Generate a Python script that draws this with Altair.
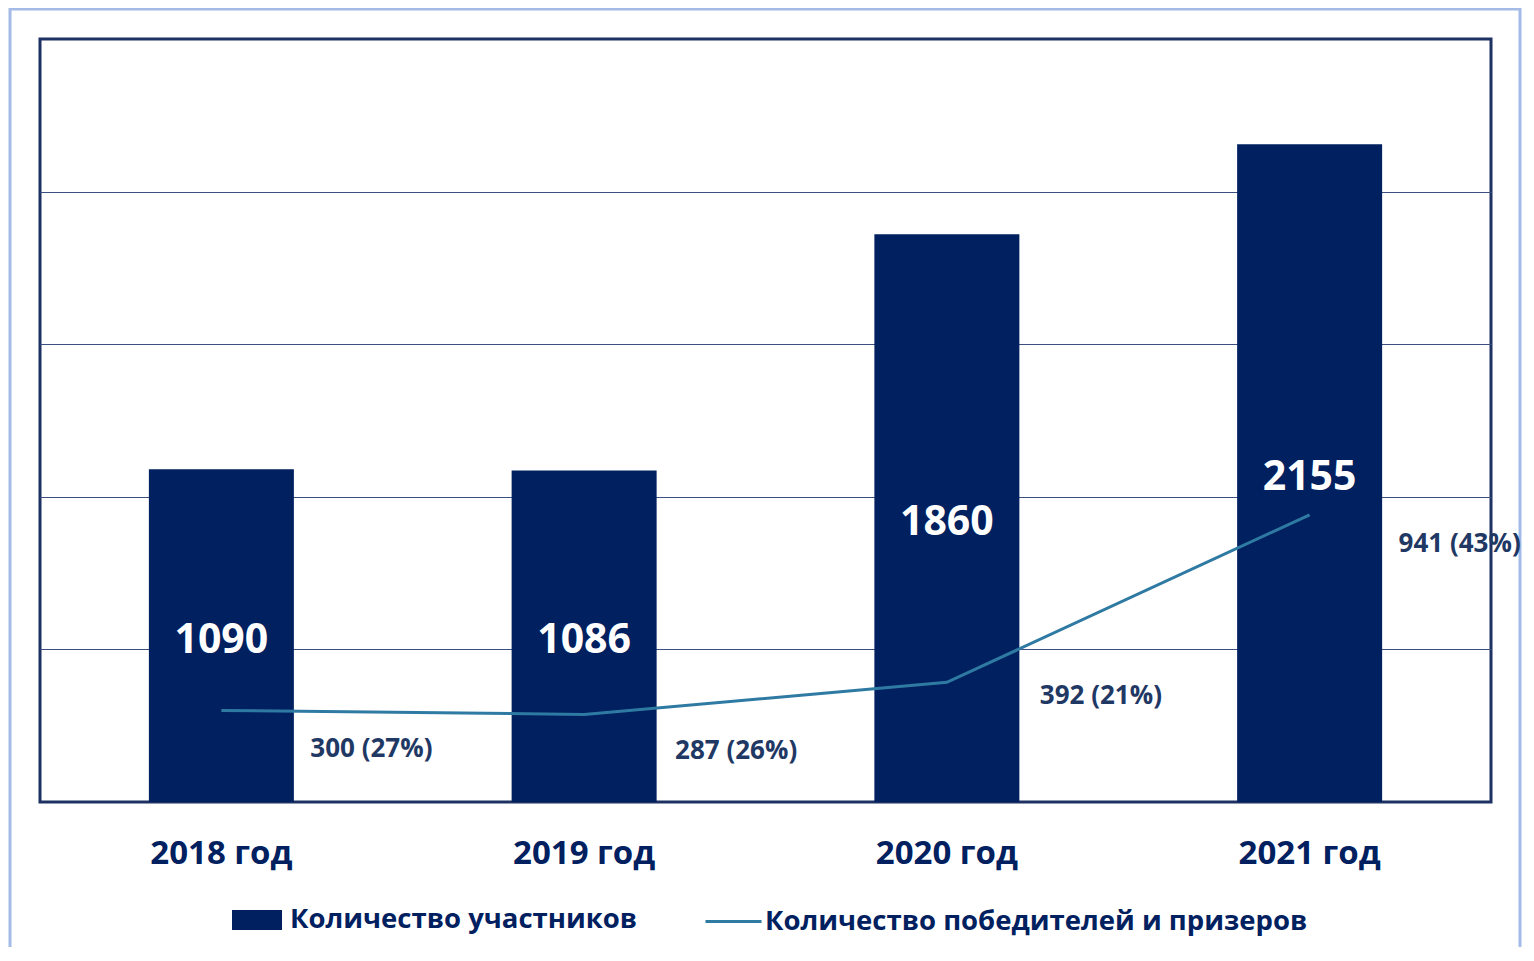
import altair as alt
import pandas as pd

years = ["2018 год", "2019 год", "2020 год", "2021 год"]
participants = [1090, 1086, 1860, 2155]
winners = [300, 287, 392, 941]
winner_share = ["27%", "26%", "21%", "43%"]
bar_series_name = "Количество участников"
line_series_name = "Количество победителей и призеров"

df = pd.DataFrame({
    "year": years,
    "participants": participants,
    "winners": winners,
    "share": winner_share,
})
df["winner_label"] = [f"{w} ({s})" for w, s in zip(winners, winner_share)]
df["bar_series"] = bar_series_name
df["line_series"] = line_series_name

FONT = "Open Sans"
NAVY = "#002060"
LABEL_NAVY = "#1F3864"
LINE = "#2E7AA3"
GRID = "#3B4F80"

y_scale = alt.Scale(domain=[0, 2500], nice=False)
x_enc = alt.X(
    "year:N", sort=years, title=None,
    scale=alt.Scale(paddingInner=0, paddingOuter=0),
    axis=alt.Axis(labelFont=FONT, labelFontSize=33, labelFontWeight="bold",
                  labelColor=NAVY, labelPadding=51, labelBaseline="middle",
                  ticks=False, domain=False, labelAngle=0, grid=False),
)

base = alt.Chart(df)

frame = alt.Chart(pd.DataFrame({"a": [0]})).mark_rect(
    fillOpacity=0, stroke="#A3BBE6", strokeWidth=3
).encode(x=alt.value(-30), x2=alt.value(1480), y=alt.value(-30), y2=alt.value(1000))

bars = base.mark_bar(size=145).encode(
    x=x_enc,
    y=alt.Y("participants:Q", scale=y_scale, title=None,
            axis=alt.Axis(labels=False, ticks=False, domain=False, grid=True,
                          gridColor=GRID, gridWidth=1, values=[500, 1000, 1500, 2000])),
    fill=alt.Fill("bar_series:N", scale=alt.Scale(domain=[bar_series_name], range=[NAVY]),
                  legend=alt.Legend(title=None, orient="none", legendX=192, legendY=856,
                                    symbolType="M-1,-0.4H1V0.4H-1Z", symbolSize=2500,
                                    symbolStrokeWidth=0, labelFont=FONT, labelFontSize=27.5,
                                    labelFontWeight="bold", labelColor=NAVY, labelOffset=8,
                                    labelLimit=0)),
)

line = base.mark_line(strokeWidth=3).encode(
    x=x_enc,
    y=alt.Y("winners:Q", scale=y_scale),
    stroke=alt.Stroke("line_series:N", scale=alt.Scale(domain=[line_series_name], range=[LINE]),
                      legend=alt.Legend(title=None, orient="none", legendX=664, legendY=853,
                                        symbolType="stroke", symbolSize=3136,
                                        symbolStrokeWidth=3, labelFont=FONT, labelFontSize=27.5,
                                        labelFontWeight="bold", labelColor=NAVY, labelOffset=2,
                                        labelLimit=0)),
)

bar_labels = base.transform_calculate(half="datum.participants / 2").mark_text(
    font=FONT, fontSize=41, fontWeight="bold", color="white", baseline="middle",
    align="center", dy=5
).encode(x=x_enc, y=alt.Y("half:Q", scale=y_scale), text="participants:Q")

label_dx = [150, 152, 154, 150]
label_dy = [39, 37, 14, 29]
line_labels = []
for yr, dx, dy in zip(years, label_dx, label_dy):
    line_labels.append(
        base.transform_filter(alt.datum.year == yr).mark_text(
            font=FONT, fontSize=26, fontWeight="bold", color=LABEL_NAVY,
            baseline="middle", align="center", dx=dx, dy=dy
        ).encode(x=x_enc, y=alt.Y("winners:Q", scale=y_scale), text="winner_label:N")
    )

chart = alt.layer(frame, bars, line, bar_labels, *line_labels).resolve_scale(
    fill="independent", stroke="independent"
).properties(
    width=1451, height=763,
    autosize=alt.AutoSizeParams(type="none"),
    padding={"left": 32, "top": 31, "right": 35, "bottom": 145},
).configure_view(stroke="#1D3163", strokeWidth=3)

chart.save("out.html", embed_options={"renderer": "svg", "actions": False})
